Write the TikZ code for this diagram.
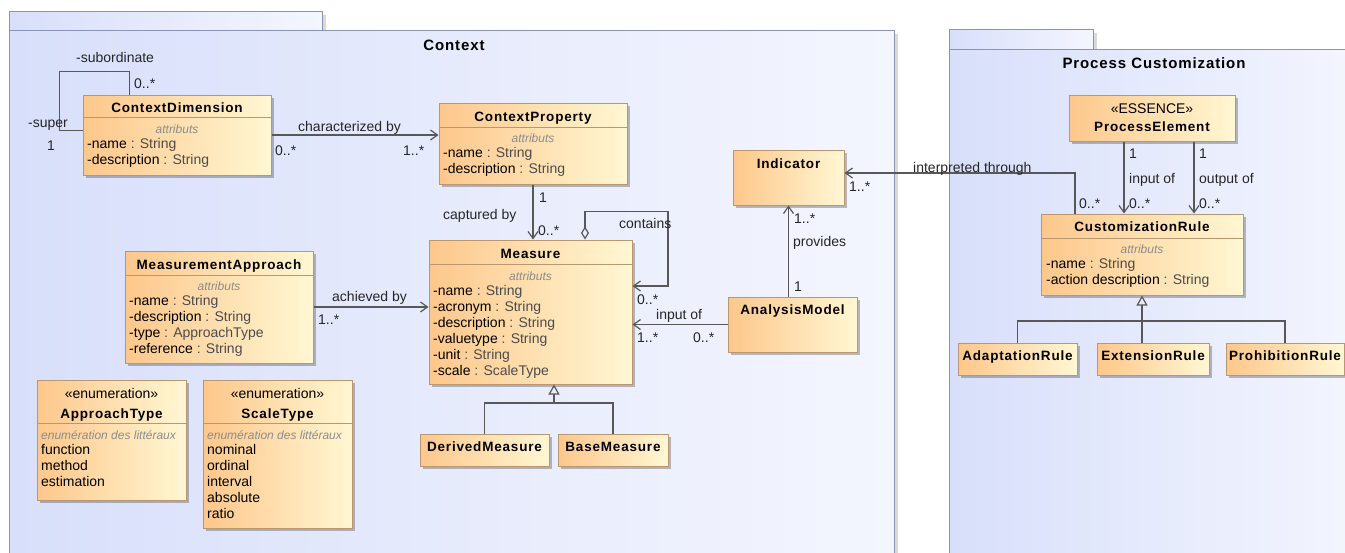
\documentclass[tikz,border=0pt]{standalone}
\usepackage{fontspec}
\setmainfont{Liberation Sans}
\newfontfamily\spacedsans[LetterSpace=6]{Liberation Sans}
\usepackage{tikz}
\usetikzlibrary{arrows.meta,shadows}

\definecolor{pkgL}{HTML}{D8DFFA}
\definecolor{pkgR}{HTML}{F4F6FE}
\definecolor{pkgdraw}{HTML}{8A93B8}
\definecolor{clsL}{HTML}{FDC78B}
\definecolor{clsR}{HTML}{FFF7D3}
\definecolor{clsdraw}{HTML}{B99871}
\definecolor{linkgrey}{HTML}{585858}
\definecolor{notegrey}{HTML}{8C8C8C}

\newcommand{\ty}[1]{\textcolor{black!70}{#1}}

\begin{document}
\begin{tikzpicture}[x=1pt,y=-1pt,>={Straight Barb[length=7pt,width=10pt]},
  font=\fontsize{14}{16}\selectfont]

  \tikzstyle{pkg}=[draw=pkgdraw,line width=1pt,left color=pkgL,right color=pkgR,inner sep=0pt,
    anchor=north west,drop shadow={shadow xshift=3pt,shadow yshift=-3pt,fill=black,opacity=0.15}]
  \tikzstyle{cls}=[draw=clsdraw,line width=1pt,left color=clsL,right color=clsR,inner sep=0pt,
    drop shadow={shadow xshift=3pt,shadow yshift=-3pt,fill=black,opacity=0.25}]
  \tikzstyle{divider}=[draw=clsdraw,line width=1pt]
  \tikzstyle{ctitle}=[inner sep=0pt,anchor=base,font=\spacedsans\bfseries\fontsize{13.5}{16}\selectfont]
  \tikzstyle{ptitle}=[inner sep=0pt,anchor=base,font=\spacedsans\bfseries\fontsize{15}{18}\selectfont]
  \tikzstyle{stereo}=[inner sep=0pt,anchor=base]
  \tikzstyle{compart}=[inner sep=0pt,anchor=base,text=notegrey,font=\itshape\fontsize{12}{13}\selectfont]
  \tikzstyle{attrs}=[inner sep=0pt,anchor=north west,align=left]
  \tikzstyle{lbl}=[inner sep=0pt,anchor=base west,text=black!85]
  \tikzstyle{link}=[draw=linkgrey,line width=1.2pt]
  \tikzstyle{gen}=[link,-{Triangle[open,length=10pt,width=11pt]}]

  \useasboundingbox (0,0) rectangle (1345,552);
  \clip (0,0) rectangle (1345,552);

  % packages
  \node[pkg,minimum width=313pt,minimum height=19pt] (ctxtab) at (9,11) {};
  \node[pkg,minimum width=885pt,minimum height=530pt] (ctx) at (9,30) {};
  \node[ptitle] (ctxT) at (454,50.5) {Context};
  \node[pkg,minimum width=144pt,minimum height=20pt] (pcusttab) at (949,29) {};
  \node[pkg,minimum width=420pt,minimum height=510pt] (pcust) at (949,49) {};
  \node[ptitle] (pcustT) at (1154,68.5) {Process Customization};

  % Context classes
  \node[cls,minimum width=188pt,minimum height=80pt] (cdim) at (177,135) {};
  \node[ctitle] (cdimT) at (177,112) {ContextDimension};
  \draw[divider] ([yshift=18pt]cdim.west) -- ([yshift=18pt]cdim.east);
  \node[compart] (cdimC) at (177,133) {attributs};
  \node[attrs] (cdimA) at (87,138.5) {-name \ty{: String}\\-description \ty{: String}};

  \node[cls,minimum width=188pt,minimum height=81pt] (cprop) at (533,143.5) {};
  \node[ctitle] (cpropT) at (533,121) {ContextProperty};
  \draw[divider] ([yshift=16.5pt]cprop.west) -- ([yshift=16.5pt]cprop.east);
  \node[compart] (cpropC) at (533,142) {attributs};
  \node[attrs] (cpropA) at (443,147.5) {-name \ty{: String}\\-description \ty{: String}};

  \node[cls,minimum width=111pt,minimum height=55pt] (ind) at (788.5,177.5) {};
  \node[ctitle] (indT) at (788.5,168) {Indicator};

  \node[cls,minimum width=203pt,minimum height=144pt] (msr) at (530.5,312) {};
  \node[ctitle] (msrT) at (530.5,258) {Measure};
  \draw[divider] ([yshift=48pt]msr.west) -- ([yshift=48pt]msr.east);
  \node[compart] (msrC) at (530.5,280) {attributs};
  \node[attrs] (msrA) at (433,285.5) {-name \ty{: String}\\-acronym \ty{: String}\\-description \ty{: String}\\-valuetype \ty{: String}\\-unit \ty{: String}\\-scale \ty{: ScaleType}};

  \node[cls,minimum width=188pt,minimum height=112pt] (mapp) at (219,307) {};
  \node[ctitle] (mappT) at (219,269) {MeasurementApproach};
  \draw[divider] ([yshift=32pt]mapp.west) -- ([yshift=32pt]mapp.east);
  \node[compart] (mappC) at (219,290) {attributs};
  \node[attrs] (mappA) at (129,295.5) {-name \ty{: String}\\-description \ty{: String}\\-type \ty{: ApproachType}\\-reference \ty{: String}};

  \node[cls,minimum width=149pt,minimum height=120pt] (atype) at (111.5,440) {};
  \node[stereo] (atypeS) at (111.5,398) {«enumeration»};
  \node[ctitle] (atypeT) at (111.5,418) {ApproachType};
  \draw[divider] ([yshift=17pt]atype.west) -- ([yshift=17pt]atype.east);
  \node[compart,anchor=base west] (atypeC) at (41,439) {enumération des littéraux};
  \node[attrs] (atypeA) at (41,444.5) {function\\method\\estimation};

  \node[cls,minimum width=149pt,minimum height=148pt] (stype) at (277.5,454) {};
  \node[stereo] (stypeS) at (277.5,398) {«enumeration»};
  \node[ctitle] (stypeT) at (277.5,418) {ScaleType};
  \draw[divider] ([yshift=31pt]stype.west) -- ([yshift=31pt]stype.east);
  \node[compart,anchor=base west] (stypeC) at (207,439) {enumération des littéraux};
  \node[attrs] (stypeA) at (207,444.5) {nominal\\ordinal\\interval\\absolute\\ratio};

  \node[cls,minimum width=129pt,minimum height=32pt] (dmsr) at (484.5,450) {};
  \node[ctitle] (dmsrT) at (484.5,451.7) {DerivedMeasure};
  \node[cls,minimum width=110pt,minimum height=32pt] (bmsr) at (613,450) {};
  \node[ctitle] (bmsrT) at (613,451.7) {BaseMeasure};

  \node[cls,minimum width=129pt,minimum height=55pt] (amod) at (792.5,324.5) {};
  \node[ctitle] (amodT) at (792.5,314.7) {AnalysisModel};

  % Process Customization classes
  \node[cls,minimum width=166pt,minimum height=46pt] (pelem) at (1152,118) {};
  \node[stereo] (pelemS) at (1152,113) {«ESSENCE»};
  \node[ctitle] (pelemT) at (1152,131.7) {ProcessElement};

  \node[cls,minimum width=202pt,minimum height=81pt] (crule) at (1142,254.5) {};
  \node[ctitle] (cruleT) at (1142,231.7) {CustomizationRule};
  \draw[divider] ([yshift=16.5pt]crule.west) -- ([yshift=16.5pt]crule.east);
  \node[compart] (cruleC) at (1142,253) {attributs};
  \node[attrs] (cruleA) at (1046,258.5) {-name \ty{: String}\\-action description \ty{: String}};

  \node[cls,minimum width=119pt,minimum height=32pt] (adrule) at (1017.5,359) {};
  \node[ctitle] (adruleT) at (1017.5,360.7) {AdaptationRule};
  \node[cls,minimum width=112pt,minimum height=32pt] (exrule) at (1153,359) {};
  \node[ctitle] (exruleT) at (1153,360.7) {ExtensionRule};
  \node[cls,minimum width=118pt,minimum height=32pt] (prrule) at (1285,359) {};
  \node[ctitle] (prruleT) at (1285,360.7) {ProhibitionRule};

  % associations
  \draw[link] ([xshift=47pt]cdim.north west) -- ++(0,-23) -- ++(-70,0) -- ++(0,59) -- ++(23,0);
  \node[lbl] (supsub) at (76,62) {-subordinate};
  \node[lbl] (supsubM) at (134,88) {0..*};
  \node[lbl] (supsup) at (28,127) {-super};
  \node[lbl] (supsupM) at (47,150) {1};

  \draw[link,->] (cdim.east) -- (cdim.east -| cprop.west);
  \node[lbl] (charby) at (298,131) {characterized by};
  \node[lbl] (charbyA) at (275,155) {0..*};
  \node[lbl] (charbyB) at (403,155) {1..*};

  \draw[link,->] (cprop.south) -- (cprop.south |- msr.north);
  \node[lbl] (captA) at (539,202) {1};
  \node[lbl] (capt) at (443,219) {captured by};
  \node[lbl] (captB) at (538,235) {0..*};

  \draw[link,{Diamond[open,length=13pt,width=8pt]}->] ([xshift=54.5pt]msr.north) |- ++(83,-28) |- ([yshift=26pt]msr.east);
  \node[lbl] (cont) at (619,228) {contains};
  \node[lbl] (contB) at (637,304) {0..*};

  \draw[link,->] (amod.west) -- (amod.west -| msr.east);
  \node[lbl] (inpt) at (656,319) {input of};
  \node[lbl] (inptB) at (637,342) {1..*};
  \node[lbl] (inptA) at (693,342) {0..*};

  \draw[link,->] (mapp.east) -- (mapp.east -| msr.west);
  \node[lbl] (achv) at (332,301) {achieved by};
  \node[lbl] (achvB) at (318,324) {1..*};

  \draw[link,->] (ind.south |- amod.north) -- (ind.south);
  \node[lbl] (provB) at (794,223) {1..*};
  \node[lbl] (prov) at (793,246) {provides};
  \node[lbl] (provA) at (794,291) {1};

  \draw[link,->] ([xshift=-67pt]crule.north) |- ([yshift=4.5pt]ind.east);
  \node[lbl] (intpB) at (849,191) {1..*};
  \node[lbl] (intp) at (913,172) {interpreted through};
  \node[lbl] (intpA) at (1079,208) {0..*};

  \draw[link,->] ([xshift=-28pt]pelem.south) -- ([xshift=-18pt]crule.north);
  \node[lbl] (peinA) at (1129,158) {1};
  \node[lbl] (pein) at (1129,183) {input of};
  \node[lbl] (peinB) at (1129,208) {0..*};

  \draw[link,->] ([xshift=42pt]pelem.south) -- ([xshift=52pt]crule.north);
  \node[lbl] (peoutA) at (1199,158) {1};
  \node[lbl] (peout) at (1199,183) {output of};
  \node[lbl] (peoutB) at (1199,208) {0..*};

  % generalizations
  \coordinate (msrfork) at (554,403);
  \draw[link] (dmsr.north) |- (msrfork) -| (bmsr.north);
  \draw[gen] (msrfork) -- (msrfork |- msr.south);

  \coordinate (crfork) at (1142,321);
  \draw[link] (adrule.north) |- (crfork) -| (prrule.north);
  \draw[link] (crfork |- exrule.north) -- (crfork);
  \draw[gen] (crfork) -- (crule.south);
\end{tikzpicture}
\end{document}
